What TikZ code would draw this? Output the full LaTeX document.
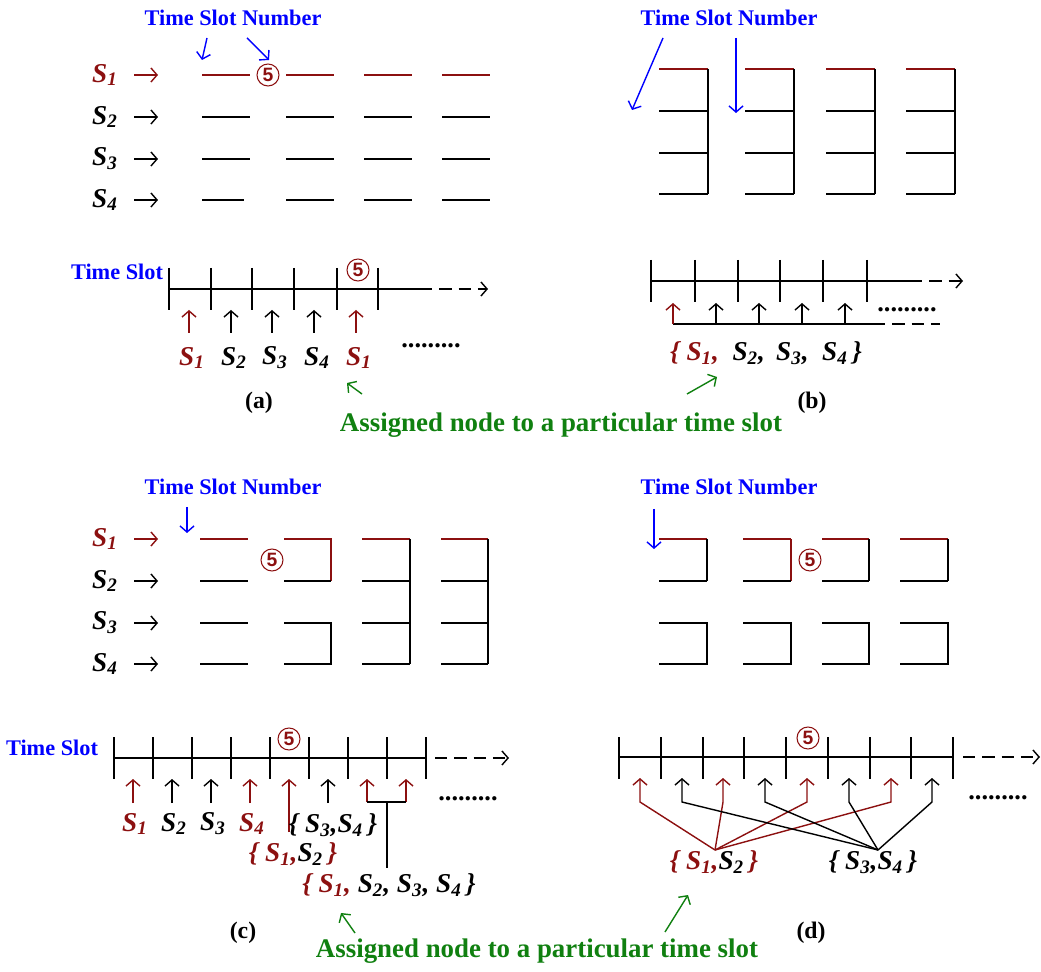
\documentclass[tikz,border=0pt]{standalone}
\usepackage{fontspec}
\setmainfont{Liberation Serif}
\newfontfamily\numfont{Liberation Sans}
\usetikzlibrary{arrows.meta}
\definecolor{slotred}{RGB}{140,16,16}
\definecolor{slotblue}{RGB}{0,0,255}
\definecolor{slotgreen}{RGB}{16,128,16}
\newcommand{\sn}[1]{S\textsubscript{#1}}
\tikzset{
  tip/.style={-{Straight Barb[length=3.5pt,width=8pt]}},
  timedash/.style={dash pattern=on 7pt off 4pt}
}
\begin{document}
\begin{tikzpicture}[x=0.02cm,y=-0.02cm,line width=0.8pt,
  slotlabel/.style={font=\fontsize{15.5}{17}\selectfont\bfseries\itshape},
  bluehead/.style={text=slotblue,font=\fontsize{12.7}{15}\selectfont\bfseries},
  greenhead/.style={text=slotgreen,font=\fontsize{15.3}{18}\selectfont\bfseries},
  caption/.style={font=\fontsize{13.5}{15}\selectfont\bfseries},
  slotno/.style={circle,draw=slotred,text=slotred,line width=0.6pt,inner sep=0pt,
    minimum size=0.44cm,font=\numfont\fontsize{11}{11}\selectfont\bfseries},
  moredots/.style={font=\fontsize{15}{17}\selectfont\bfseries,anchor=base}]
\useasboundingbox (0,0) rectangle (1041,972);
% (a)
\node[bluehead] (tsna) at (233,18) {Time Slot Number};
\draw[slotblue,tip] (207,38) -- (202,60);
\draw[slotblue,tip] (247,38) -- (269,60);
\foreach \i/\y/\col/\xe in {1/75/slotred/250,2/117/black/250,3/159/black/250,4/200/black/244}{
  \node[slotlabel,text=\col] (sa\i) at (105,\y) {\sn{\i}};
  \draw[\col,tip] (134,\y) -- (158,\y);
  \draw[\col] (202,\y) -- (\xe,\y);
  \foreach \xa/\xb in {286/334,364/412,442/490}
    \draw[\col] (\xa,\y) -- (\xb,\y);
}
\node[slotno] (numa) at (268,75) {5};
\node[bluehead] (tsa) at (117,272) {Time Slot};
\draw (169,289) -- (420,289);
\draw[timedash,tip] (420,289) -- (488,289);
\foreach \x in {169,211,252,294,337,378} \draw (\x,268) -- (\x,310);
\node[slotno] (numa2) at (358,270) {5};
\foreach \x/\i/\col in {189/1/slotred,231/2/black,272/3/black,314/4/black,356/1/slotred}{
  \draw[\col,tip] (\x,333) -- (\x,310);
  \node[slotlabel,text=\col] (la\x) at (\x+3,358) {\sn{\i}};
}
\node[moredots] (dotsa) at (431,348) {.........};
\draw[slotgreen,tip] (362,394) -- (347,383);
\node[caption] (capa) at (259,403) {(a)};
\node[greenhead] (assign1) at (561,425) {Assigned node to a particular time slot};
% (b)
\node[bluehead] (tsnb) at (729,18) {Time Slot Number};
\draw[slotblue,tip] (663,38) -- (632,110);
\draw[slotblue,tip] (736,38) -- (736,113);
\foreach \xl/\xr in {659/708,745/794,826/875,906/955}{
  \draw[slotred] (\xl,69) -- (\xr,69);
  \draw (\xr,69) -- (\xr,194);
  \foreach \y in {111,153,194} \draw (\xl,\y) -- (\xr,\y);
}
\draw (651,281) -- (910,281);
\draw[timedash,tip] (910,281) -- (963,281);
\foreach \x in {651,695,738,780,823,867} \draw (\x,260) -- (\x,302);
\draw (673,324) -- (873,324);
\draw[timedash] (873,324) -- (940,324);
\draw[slotred,tip] (673,324) -- (673,303);
\foreach \x in {716,759,802,845} \draw[tip] (\x,324) -- (\x,303);
\node[moredots] (dotsb) at (907,312) {.........};
\node[slotlabel] (allb) at (766,353) {\textcolor{slotred}{\{ \sn{1},}\ \ \sn{2},\ \,\sn{3},\ \ \sn{4}\,\}};
\draw[slotgreen,tip] (687,394) -- (717,377);
\node[caption] (capb) at (812,403) {(b)};
% (c)
\node[bluehead] (tsnc) at (233,487) {Time Slot Number};
\draw[slotblue,tip] (187,507) -- (187,533);
\foreach \i/\y/\col in {1/539/slotred,2/581/black,3/623/black,4/664/black}{
  \node[slotlabel,text=\col] (sc\i) at (105,\y) {\sn{\i}};
  \draw[\col,tip] (134,\y) -- (158,\y);
  \draw[\col] (200,\y) -- (248,\y);
}
\draw[slotred] (284,539) -- (331,539) -- (331,581);
\draw (284,581) -- (331,581);
\draw (284,623) -- (331,623) -- (331,664) -- (284,664);
\foreach \xl/\xr in {362/410,441/488}{
  \draw[slotred] (\xl,539) -- (\xr,539);
  \draw (\xr,539) -- (\xr,664);
  \foreach \y in {581,623,664} \draw (\xl,\y) -- (\xr,\y);
}
\node[slotno] (numc) at (272,560) {5};
\node[bluehead] (tsc) at (52,748) {Time Slot};
\draw (114,758) -- (426,758);
\draw[timedash,tip] (435,758) -- (509,758);
\foreach \x in {114,153,192,231,270,309,348,387,426} \draw (\x,737) -- (\x,779);
\node[slotno] (numc2) at (289,739) {5};
\foreach \x/\i/\col in {133/1/slotred,172/2/black,211/3/black,250/4/slotred}{
  \draw[\col,tip] (\x,803) -- (\x,779);
  \node[slotlabel,text=\col] (lc\x) at (\x+2,824) {\sn{\i}};
}
\draw[slotred,tip] (289,832) -- (289,779);
\draw[tip] (328,803) -- (328,779);
\draw[slotred,tip] (367,802) -- (367,779);
\draw[slotred,tip] (406,802) -- (406,779);
\draw (367,802) -- (406,802);
\draw (387,802) -- (387,868);
\node[slotlabel] (pairc2) at (333,825) {\{ \sn{3},\sn{4}\,\}};
\node[slotlabel] (pairc1) at (293,854) {\textcolor{slotred}{\{ \sn{1},}\sn{2}\,\textcolor{slotred}{\}}};
\node[slotlabel] (allc) at (389,885) {\textcolor{slotred}{\{ \sn{1},}\ \sn{2},\ \sn{3},\ \sn{4}\,\}};
\node[moredots] (dotsc) at (468,800) {.........};
\draw[slotgreen,tip] (355,933) -- (341,913);
\node[caption] (capc) at (243,933) {(c)};
\node[greenhead] (assign2) at (537,951) {Assigned node to a particular time slot};
% (d)
\node[bluehead] (tsnd) at (729,487) {Time Slot Number};
\draw[slotblue,tip] (654,509) -- (654,549);
\foreach \xl/\xr/\col in {659/707/black,743/791/slotred,822/869/black,900/948/black}{
  \draw[slotred] (\xl,539) -- (\xr,539);
  \draw[\col] (\xr,539) -- (\xr,581);
  \draw (\xl,581) -- (\xr,581);
  \draw (\xl,623) -- (\xr,623) -- (\xr,664) -- (\xl,664);
}
\node[slotno] (numd) at (810,560) {5};
\draw (619,757) -- (953,757);
\draw[timedash,tip] (963,757) -- (1040,757);
\foreach \x in {619,661,703,744,786,828,870,911,953} \draw (\x,737) -- (\x,779);
\node[slotno] (numd2) at (808,738) {5};
\node[slotlabel] (paird1) at (714,862) {\textcolor{slotred}{\{ \sn{1},}\sn{2}\,\textcolor{slotred}{\}}};
\node[slotlabel] (paird2) at (873,862) {\{ \sn{3},\sn{4}\,\}};
\coordinate (fan1) at (715,850);
\coordinate (fan2) at (878,850);
\foreach \x in {640,723,807,891} \draw[slotred,tip] (fan1) -- (\x,802) -- (\x,778);
\foreach \x in {682,765,849,932} \draw[tip] (fan2) -- (\x,802) -- (\x,778);
\node[moredots] (dotsd) at (998,799) {.........};
\draw[slotgreen,tip] (665,932) -- (688,895);
\node[caption] (capd) at (811,933) {(d)};
\end{tikzpicture}
\end{document}
